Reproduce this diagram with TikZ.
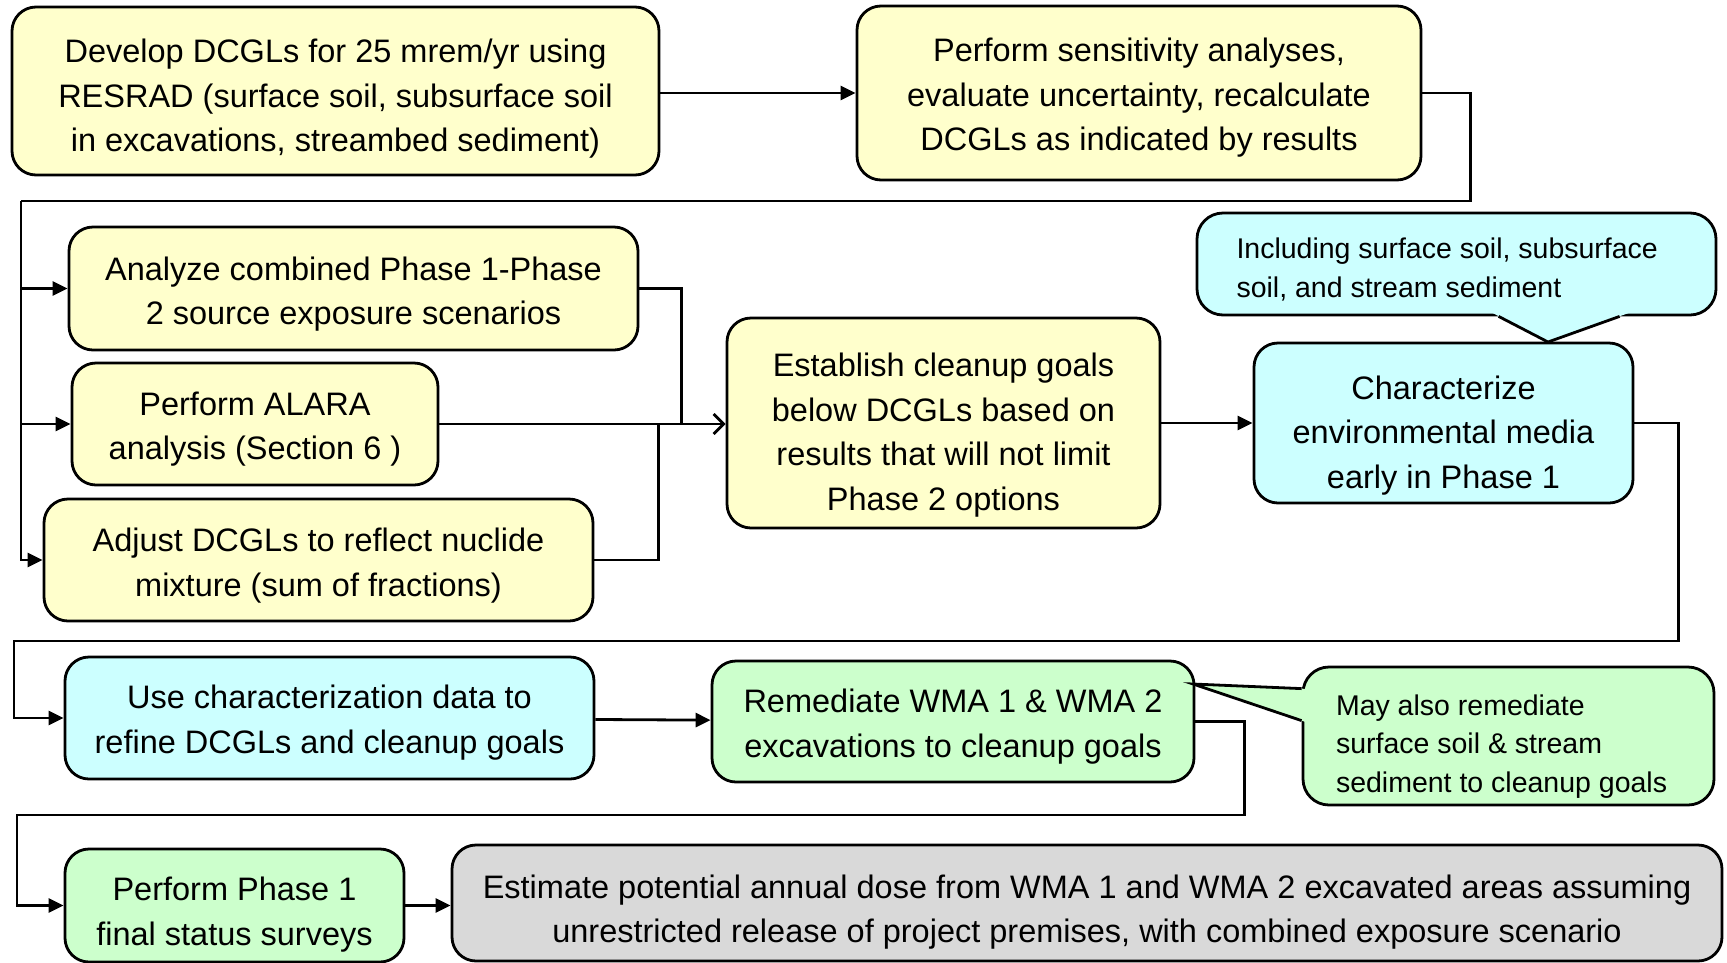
\documentclass[tikz,border=0pt]{standalone}
\usepackage{fontspec}
\setmainfont{Liberation Sans}
\usepackage{xcolor}
\usepackage{tikz}
\usetikzlibrary{arrows.meta, calc, positioning}

\definecolor{paleyellow}{HTML}{FFFFCC}
\definecolor{palecyan}{HTML}{CCFFFF}
\definecolor{palegreen}{HTML}{CCFFCC}
\definecolor{palegray}{HTML}{D9D9D9}

\begin{document}
\begin{tikzpicture}[x=1pt, y=-1pt,
        task/.style={draw, line width=2.8pt, rounded corners=24pt, align=flush center, inner sep=0pt,
            font=\fontsize{32.5}{44.5}\selectfont},
        note/.style={draw, line width=2.8pt, rounded corners=26pt, align=flush left, inner sep=0pt,
            font=\fontsize{28.5}{38.5}\selectfont},
        textdrop/.style={execute at begin node={\rule{0pt}{#1pt}}},
        flow/.style={line width=2.8pt, -{Triangle[length=15pt,width=14pt]}},
        wire/.style={line width=2.8pt}]
        \useasboundingbox (0,0) rectangle (1727,962);

        \node[task, fill=paleyellow, minimum width=647, minimum height=168, text width=630, textdrop=39.5] (dcgl) at (335.5,91)
            {Develop DCGLs for 25 mrem/yr using\\RESRAD (surface soil, subsurface soil\\in excavations, streambed sediment)};
        \node[task, fill=paleyellow, minimum width=564, minimum height=174, text width=550, textdrop=33] (sens) at (1139,93)
            {Perform sensitivity analyses,\\evaluate uncertainty, recalculate\\DCGLs as indicated by results};

        \node[task, fill=paleyellow, minimum width=569, minimum height=123, text width=555, textdrop=35] (comb) at (353.5,288.5)
            {Analyze combined Phase 1-Phase\\2 source exposure scenarios};
        \node[task, fill=paleyellow, minimum width=366, minimum height=122, text width=355, textdrop=34] (alara) at (255,424)
            {Perform ALARA\\analysis (Section 6 )};
        \node[task, fill=paleyellow, minimum width=549, minimum height=122, text width=535, textdrop=35] (mix) at (318.5,560)
            {Adjust DCGLs to reflect nuclide\\mixture (sum of fractions)};
        \node[task, fill=paleyellow, minimum width=433, minimum height=210, text width=420, textdrop=48] (goals) at (943.5,423)
            {Establish cleanup goals\\below DCGLs based on\\results that will not limit\\Phase 2 options};
        \node[task, fill=palecyan, minimum width=379, minimum height=160, text width=365, textdrop=48] (char) at (1443.5,423)
            {Characterize\\environmental media\\early in Phase 1};

        \node[task, fill=palecyan, minimum width=529, minimum height=122, text width=515, textdrop=33] (refine) at (329.5,718)
            {Use characterization data to\\refine DCGLs and cleanup goals};
        \node[task, fill=palegreen, minimum width=482, minimum height=121, text width=470, textdrop=34] (remed) at (953,721.5)
            {Remediate WMA 1 \& WMA 2\\excavations to cleanup goals};

        \node[task, fill=palegreen, minimum width=339, minimum height=113, text width=330, textdrop=41.5] (fss) at (234.5,905.5)
            {Perform Phase 1\\final status surveys};
        \node[task, fill=palegray, minimum width=1270, minimum height=116, text width=1255, textdrop=41.5] (dose) at (1087,903)
            {Estimate potential annual dose from WMA 1 and WMA 2 excavated areas assuming\\unrestricted release of project premises, with combined exposure scenario};

        % callouts
        \node[note, fill=palecyan, minimum width=519, minimum height=102, text width=440, textdrop=32] (media) at (1456.5,264)
            {Including surface soil, subsurface\\soil, and stream sediment};
        \coordinate (mediaTip) at (1548,342);
        \fill[palecyan] ($(media.south west)+(294,-5)$) -- (mediaTip) -- ($(media.south west)+(437.5,-5)$) -- cycle;
        \draw[wire] ($(media.south west)+(303,0)$) -- (mediaTip) -- ($(media.south west)+(424,0)$);

        \node[note, fill=palegreen, minimum width=411, minimum height=138, text width=345, textdrop=41] (extra) at (1508.5,736)
            {May also remediate\\surface soil \& stream\\sediment to cleanup goals};
        \coordinate (extraTip) at (1193,684);
        \fill[palegreen] ($(extra.north west)+(5,23.3)$) -- (extraTip) -- ($(extra.north west)+(5,56.7)$) -- cycle;
        \draw[wire] ($(extra.north west)+(0,23)$) -- (extraTip) -- ($(extra.north west)+(0,55)$);

        % connectors
        \draw[flow] (dcgl.east |- sens.west) -- (sens.west);

        \coordinate (busTop) at (21,201);
        \draw[wire] (sens.east) -- ++(48,0) |- (busTop);
        \draw[flow] (busTop) |- (comb.west);
        \draw[flow] (busTop) |- (alara.west);
        \draw[flow] (busTop) |- (mix.west);

        \draw[wire] (comb.east) -| ($(goals.west)+(-44,0)$);
        \draw[wire] (mix.east) -| ($(goals.west)+(-67,0)$);
        \draw[flow, -{Straight Barb[length=10pt,width=20pt]}] (alara.east) -- (alara.east -| goals.west);
        \draw[flow] (goals) -- (char);

        \coordinate (busMid) at (14,641);
        \draw[flow] (char.east) -- ++(44,0) |- (busMid) |- (refine.west);
        \draw[flow] (refine) -- (remed);

        \coordinate (busLow) at (17,815);
        \draw[flow] (remed.east) -- ++(49,0) |- (busLow) |- (fss.west);
        \draw[flow] (fss.east) -- (fss.east -| dose.west);
\end{tikzpicture}
\end{document}
